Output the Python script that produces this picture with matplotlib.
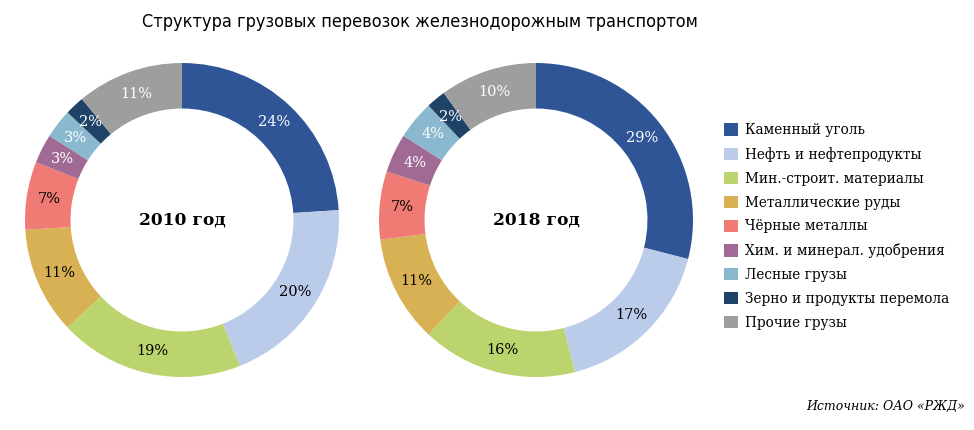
import matplotlib.pyplot as plt

categories = ['Каменный уголь', 'Нефть и нефтепродукты', 'Мин.-строит. материалы',
              'Металлические руды', 'Чёрные металлы', 'Хим. и минерал. удобрения',
              'Лесные грузы', 'Зерно и продукты перемола', 'Прочие грузы']
shares_2010 = [24, 20, 19, 11, 7, 3, 3, 2, 11]
shares_2018 = [29, 17, 16, 11, 7, 4, 4, 2, 10]
colors = ['#2F5597', '#BBCBEA', '#BCD46E', '#D7B154', '#F07A74',
          '#A06A94', '#8AB9CF', '#1F4366', '#9E9E9E']
label_colors = ['white', 'black', 'black', 'black', 'black',
                'white', 'white', 'white', 'white']

serif = ['DejaVu Serif']

W, H = 974, 430
fig = plt.figure(figsize=(W / 100, H / 100), dpi=100)

fig.text(420 / W, 1 - 22 / H, 'Структура грузовых перевозок железнодорожным транспортом',
         ha='center', va='center', fontsize=13,
         family=['DejaVu Sans Condensed', 'DejaVu Sans'], fontstretch='condensed')


def donut(left_px, values, year):
    ax = fig.add_axes([left_px / W, (H - 377) / H, 314 / W, 314 / H])
    wedges, _, autotexts = ax.pie(values, colors=colors, startangle=90, counterclock=False,
                                  radius=1, wedgeprops=dict(width=0.29, linewidth=0),
                                  autopct=lambda p: f'{p:.0f}%', pctdistance=0.855,
                                  textprops=dict(fontsize=10.5, family=serif))
    for t, c in zip(autotexts, label_colors):
        t.set_color(c)
    ax.text(0, 0, year, ha='center', va='center', fontsize=12.3,
            fontweight='bold', family=serif)
    ax.set_xlim(-1, 1)
    ax.set_ylim(-1, 1)
    return wedges


wedges = donut(25, shares_2010, '2010 год')
donut(379, shares_2018, '2018 год')

fig.legend(wedges, categories, loc='upper left', bbox_to_anchor=(712 / W, 1 - 111 / H),
           frameon=False, handlelength=1.0, handleheight=1.0, handletextpad=0.55,
           labelspacing=0.72, prop=dict(family=serif, size=9.8))

fig.text(965 / W, 1 - 407 / H, 'Источник: ОАО «РЖД»', ha='right', va='center',
         fontsize=9, style='italic', family=serif)

fig.savefig('out.png', dpi=100)
